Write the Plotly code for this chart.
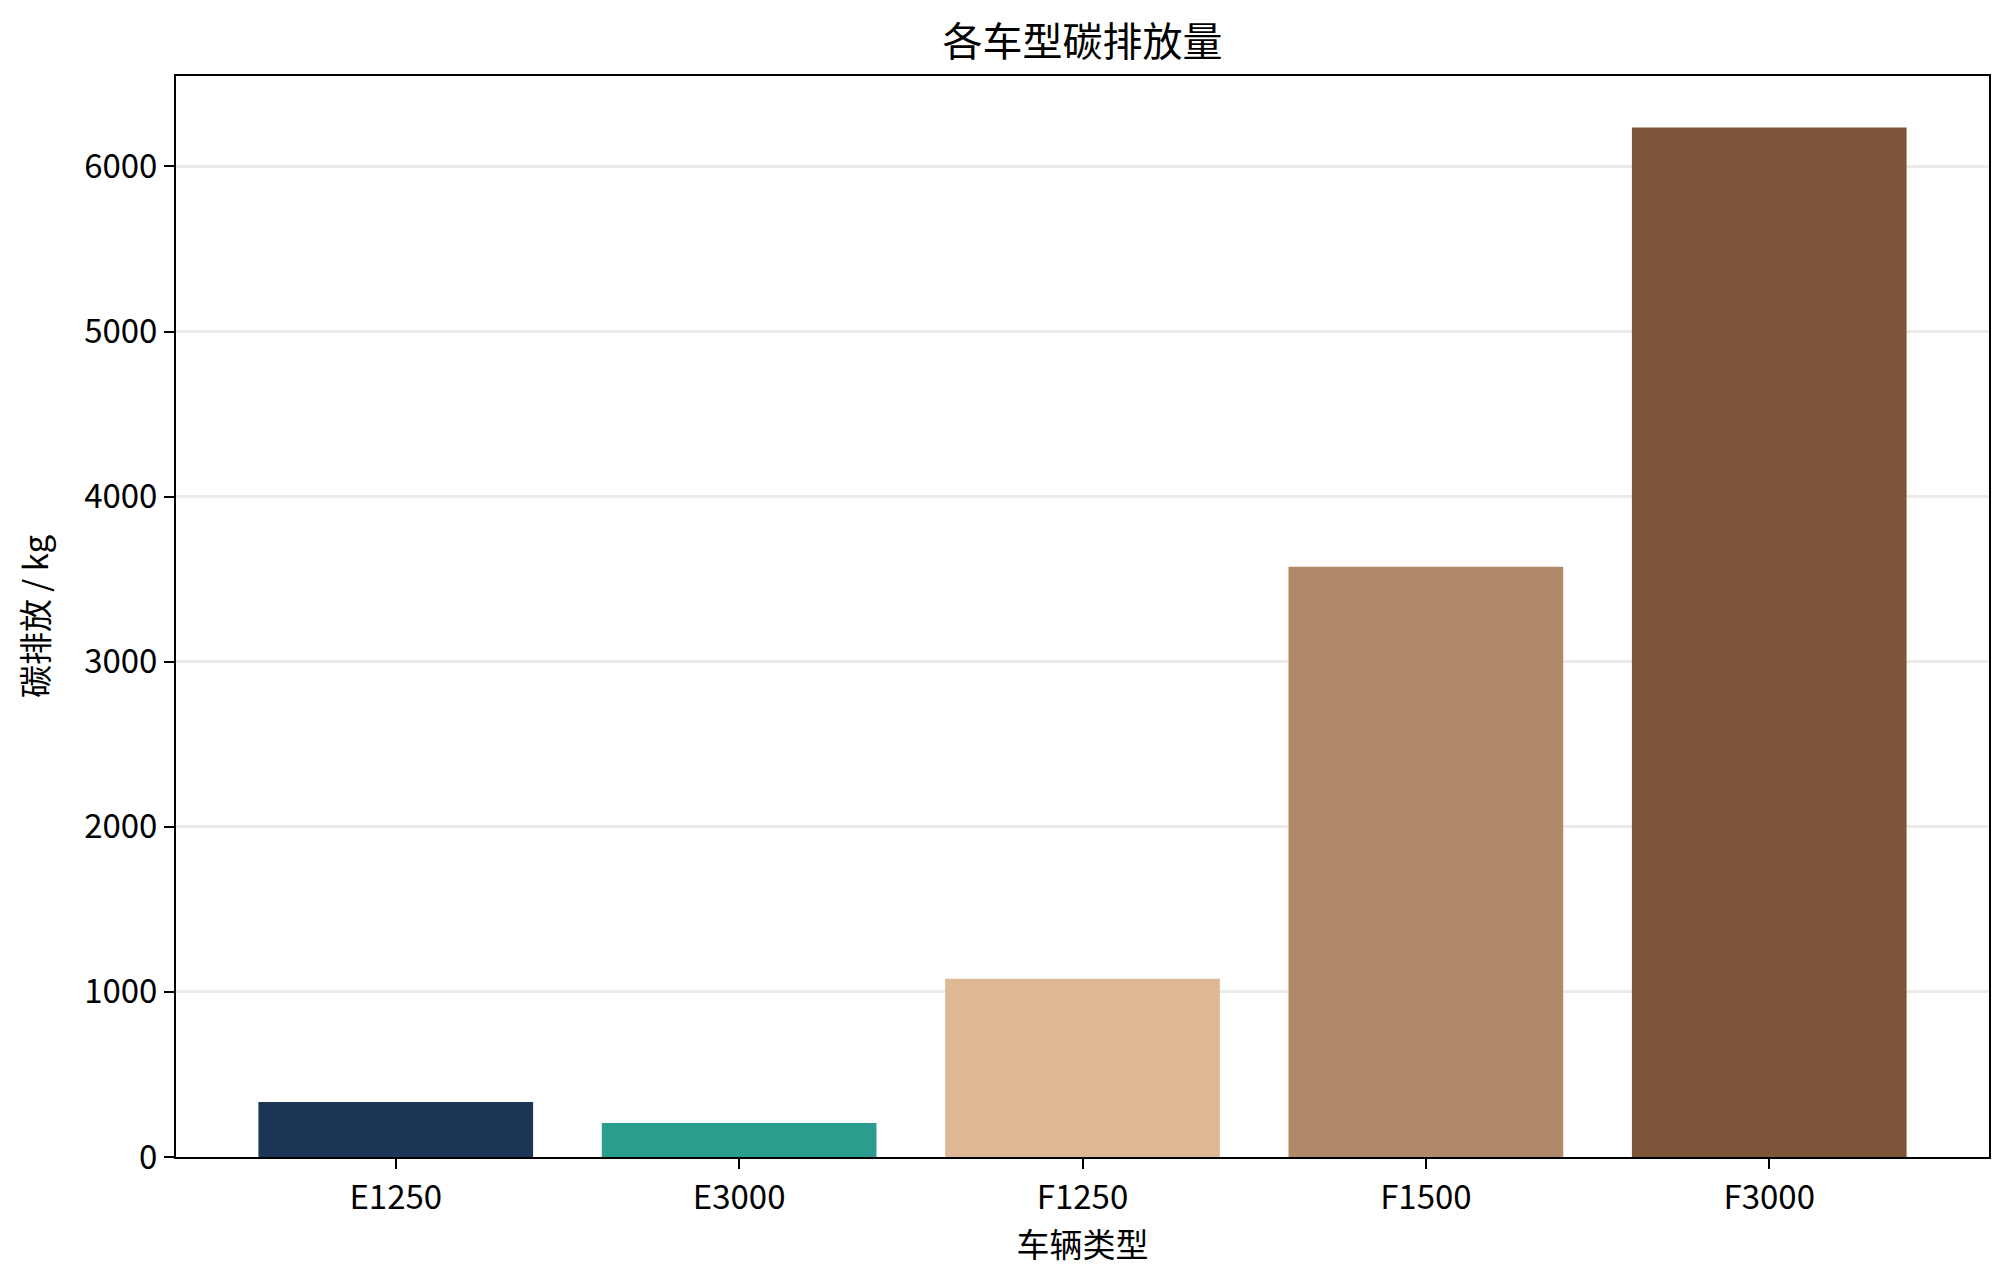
import plotly.graph_objects as go

# 车型与碳排放量
vehicle_types = ["E1250", "E3000", "F1250", "F1500", "F3000"]
emissions = [333, 206, 1079, 3576, 6236]
bar_colors = ["#1d3557", "#2a9d8f", "#ddb892", "#b08968", "#7f5539"]
y_ticks = [0, 1000, 2000, 3000, 4000, 5000, 6000]

# the page adds an 8px body margin, so the figure is a bit smaller than the window
W, H = 2005, 1277
FONT = "Noto Sans CJK SC, Noto Sans, sans-serif"

fig = go.Figure(go.Bar(
    x=vehicle_types,
    y=emissions,
    marker=dict(color=bar_colors, line=dict(width=0)),
    width=0.8,
))

axis_common = dict(
    showline=True, linecolor="black", linewidth=2, mirror=True,
    ticks="outside", ticklen=10, tickwidth=2, tickcolor="black",
    tickfont=dict(size=33, color="black"),
    zeroline=False,
)

fig.update_xaxes(
    **axis_common,
    range=[-0.64, 4.64],
    showgrid=False,
    title=dict(text="车辆类型", font=dict(size=33, color="black"), standoff=14),
)
fig.update_yaxes(
    **axis_common,
    range=[0, 6548],
    tickvals=y_ticks,
    showgrid=True, gridcolor="rgba(178,178,178,0.26)", gridwidth=2.5,
    layer="above traces",
    title=dict(text="碳排放 / kg", font=dict(size=33, color="black"), standoff=26),
)

fig.update_layout(
    width=W, height=H,
    margin=dict(l=168, r=24, t=68, b=128),
    plot_bgcolor="white", paper_bgcolor="white",
    font=dict(family=FONT, color="black"),
    showlegend=False,
    title=dict(text="各车型碳排放量", font=dict(size=40, color="black"),
               x=(168 + (W - 168 - 24) / 2) / W, xanchor="center",
               y=1 - 34 / H, yanchor="middle", yref="container"),
)

fig.write_html("out.html")
